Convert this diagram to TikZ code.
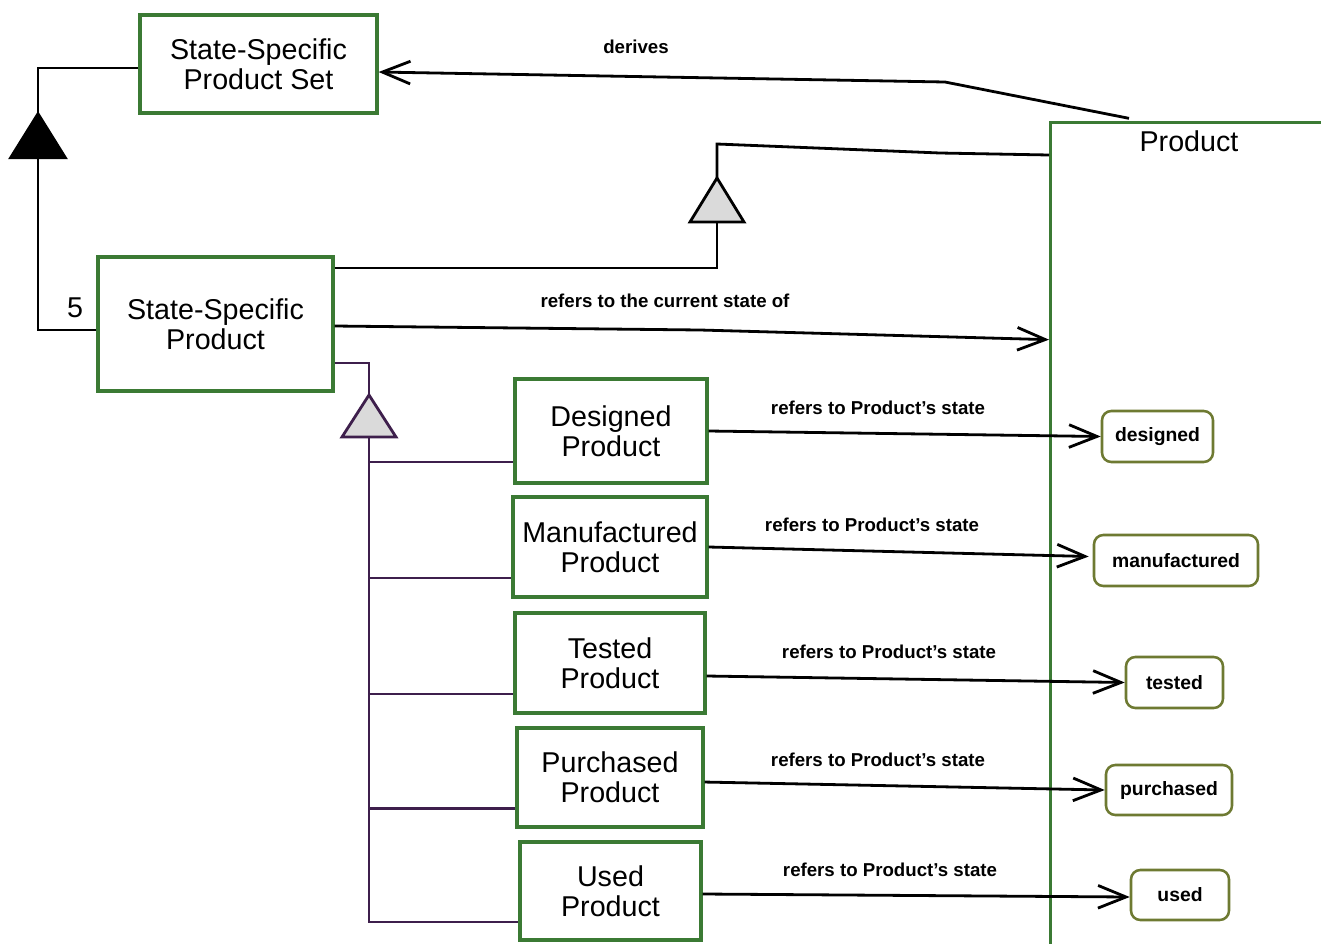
\documentclass[tikz,border=0pt]{standalone}
\usepackage{fontspec}
\setmainfont{Liberation Sans}
\usetikzlibrary{arrows.meta,positioning}
\definecolor{boxgreen}{HTML}{3B7A34}
\definecolor{stateolive}{HTML}{6E7A32}
\definecolor{purp}{HTML}{3E1F4C}
\definecolor{trigray}{HTML}{DADADA}
\tikzset{
  cls/.style={draw=boxgreen, line width=2.4pt, fill=white, align=center, inner sep=0pt,
    font=\fontsize{21.5}{22.5}\selectfont},
  st/.style={draw=stateolive, line width=1.9pt, rounded corners=7pt, fill=white, inner sep=0pt,
    font=\fontsize{14.5}{16}\selectfont\bfseries},
  conn/.style={line width=2.1pt, black},
  pconn/.style={line width=2.1pt, purp},
  openarr/.style={-{Straight Barb[length=21pt,width=17pt,line width=2.1pt]}},
  lbl/.style={font=\fontsize{14}{16}\selectfont\bfseries, inner sep=0pt},
}
\begin{document}
\begin{tikzpicture}[x=0.75pt,y=-0.75pt]
\useasboundingbox (0,0) rectangle (1321,943);
\clip (0,0) rectangle (1321,943);

% class boxes
\node[cls, minimum width=177.75pt, minimum height=73.5pt] (SSPS) at (258.5,64) {State-Specific\\Product Set};
\node[cls, minimum width=176.25pt, minimum height=100.5pt] (SSP) at (215.5,324) {State-Specific\\Product};
\node[cls, minimum width=144pt, minimum height=78pt] (D) at (611,431) {Designed\\Product};
\node[cls, minimum width=145.5pt, minimum height=75pt] (M) at (610,547) {Manufactured\\Product};
\node[cls, minimum width=142.5pt, minimum height=75pt] (T) at (610,663) {Tested\\Product};
\node[cls, minimum width=139.5pt, minimum height=74.25pt] (Pu) at (610,777.5) {Purchased\\Product};
\node[cls, minimum width=135.75pt, minimum height=73.5pt] (U) at (610.5,891) {Used\\Product};

% Product box (extends beyond frame)
\node[draw=boxgreen, line width=2.4pt, minimum width=240pt, minimum height=650pt, anchor=north west, inner sep=0pt] (P) at (1049,121) {};
\node[font=\fontsize{21.5}{22.5}\selectfont] (Ptxt) at (1189,141) {Product};

% state nodes
\node[st, minimum width=83.25pt, minimum height=38.25pt] (sd) at (1157.5,436.5) {designed};
\node[st, minimum width=123pt, minimum height=38.25pt] (sm) at (1176,560.5) {manufactured};
\node[st, minimum width=72.75pt, minimum height=38.25pt] (stt) at (1174.5,682.5) {tested};
\node[st, minimum width=94.5pt, minimum height=37.5pt] (sp) at (1169,790) {purchased};
\node[st, minimum width=73.5pt, minimum height=37.5pt] (su) at (1180,895) {used};

% black generalization: SSP -> SSPS
\coordinate (t1apex) at (38,113);
\coordinate (t1base) at (38,158);
\draw[conn] ([yshift=-4.5pt]SSP.west) -| (t1base);
\draw[conn] (t1apex) |- ([yshift=-3pt]SSPS.west);
\filldraw[line width=1.5pt, fill=black, draw=black, line join=miter] (t1apex) -- (10,158) -- (66,158) -- cycle;
\node[font=\fontsize{21.5}{22.5}\selectfont] (five) at (75,308) {5};

% gray generalization: SSP -> Product
\coordinate (t2apex) at (717,178);
\coordinate (t2base) at (717,222);
\draw[conn] ([yshift=42pt]SSP.east) -| (t2base);
\draw[conn] (t2apex) -- (717,144) -- (940,153) -- ([yshift=-25.5pt]P.north west);
\filldraw[line width=2.1pt, fill=trigray, draw=black, line join=miter] (t2apex) -- (690,222) -- (744,222) -- cycle;

% derives
\coordinate (dbend) at (945,82);
\draw[conn, openarr] ([xshift=60pt,yshift=2pt]P.north west) -- (dbend) -- ([yshift=-6pt]SSPS.east);
\node[lbl] (dl) at (636,47) {derives};

% refers to the current state of
\draw[conn, openarr] ([yshift=-1.5pt]SSP.east) -- (700,330) -- ([yshift=-164pt]P.north west);
\node[lbl] (cl) at (665,301) {refers to the current state of};

% purple generalization tree
\coordinate (t3apex) at (369,395);
\coordinate (t3base) at (369,437);
\draw[pconn] ([yshift=-29.25pt]SSP.east) -| (t3apex);
\draw[pconn] (t3base) |- ([yshift=-23.25pt]U.west);
\foreach \n in {D,M,T,Pu} {
  \coordinate (br) at ([yshift=-23.25pt]\n.west);
  \draw[pconn] (t3base |- br) -- (br);
}
\filldraw[line width=2.1pt, fill=trigray, draw=purp, line join=miter] (t3apex) -- (342,437) -- (396,437) -- cycle;

% state references
\draw[conn, openarr] (D.east) -- (sd.west);
\node[lbl] (l1) at (878,408) {refers to Product's state};
\draw[conn, openarr] (M.east) -- ([xshift=-3pt,yshift=3pt]sm.west);
\node[lbl] (l2) at (872,525) {refers to Product's state};
\draw[conn, openarr] ([yshift=-9.75pt]T.east) -- (stt.west);
\node[lbl] (l3) at (889,652) {refers to Product's state};
\draw[conn, openarr] ([yshift=-3.4pt]Pu.east) -- (sp.west);
\node[lbl] (l4) at (878,760) {refers to Product's state};
\draw[conn, openarr] ([yshift=-2.25pt]U.east) -- ([yshift=-1.5pt]su.west);
\node[lbl] (l5) at (890,870) {refers to Product's state};
\end{tikzpicture}
\end{document}
